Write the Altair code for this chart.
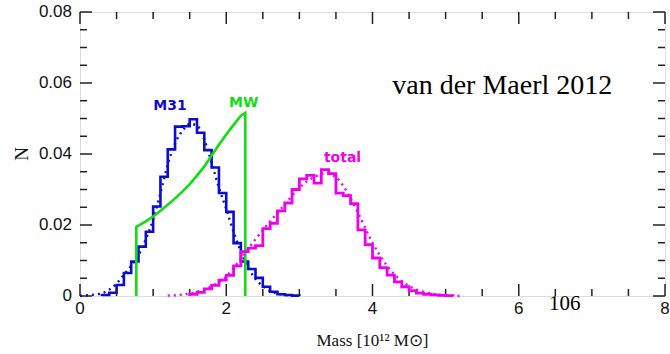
import altair as alt
import pandas as pd

# ---- data -----------------------------------------------------------------
BIN_W = 0.1

# M31 mass distribution: histogram (0.1-wide bins from 0.3) and smooth fit
M31_START = 0.3
M31_HIST = [0.0003, 0.0009, 0.0031, 0.0065, 0.0097, 0.0139, 0.0181, 0.0252, 0.0336, 0.0413,
            0.0477, 0.0478, 0.0498, 0.0460, 0.0411, 0.0362, 0.0290, 0.0237, 0.0149, 0.0097,
            0.0076, 0.0051, 0.0026, 0.0012, 0.0005, 0.0003, 0.0001]
M31_FIT_X = [0.0, 0.1, 0.2, 0.3, 0.4, 0.5, 0.6, 0.7, 0.8, 0.9, 1.0, 1.1, 1.2, 1.3, 1.4,
             1.5, 1.6, 1.7, 1.8, 1.9, 2.0, 2.1, 2.2, 2.3, 2.4, 2.5, 2.6, 2.7, 2.8, 2.9]
M31_FIT_Y = [0.0000, 0.0002, 0.0004, 0.0008, 0.0018, 0.0035, 0.0060, 0.0085, 0.0115, 0.0160,
             0.0215, 0.0290, 0.0370, 0.0430, 0.0465, 0.0485, 0.0480, 0.0440, 0.0375, 0.0305,
             0.0245, 0.0180, 0.0125, 0.0080, 0.0048, 0.0028, 0.0014, 0.0007, 0.0003, 0.0001]

# Milky Way mass distribution (truncated at both ends)
MW_X = [0.77, 0.77, 0.80, 0.90, 1.00, 1.10, 1.20, 1.30, 1.40, 1.50, 1.60, 1.70, 1.80,
        1.90, 2.00, 2.10, 2.20, 2.26, 2.26]
MW_Y = [0.0000, 0.0195, 0.0198, 0.0210, 0.0224, 0.0240, 0.0257, 0.0275, 0.0294, 0.0315,
        0.0339, 0.0365, 0.0396, 0.0426, 0.0455, 0.0482, 0.0508, 0.0516, 0.0000]

# Local Group total mass: histogram (0.1-wide bins from 1.5) and smooth fit
TOT_START = 1.5
TOT_HIST = [0.0005, 0.0010, 0.0020, 0.0030, 0.0045, 0.0058, 0.0085, 0.0125, 0.0135, 0.0142,
            0.0190, 0.0205, 0.0240, 0.0262, 0.0300, 0.0330, 0.0340, 0.0318, 0.0356, 0.0345,
            0.0290, 0.0283, 0.0260, 0.0186, 0.0145, 0.0107, 0.0080, 0.0059, 0.0040, 0.0026,
            0.0015, 0.0008, 0.0005, 0.0003, 0.0002, 0.0001]
TOT_FIT_X = [1.2, 1.4, 1.6, 1.8, 2.0, 2.2, 2.4, 2.6, 2.8, 3.0, 3.2, 3.35, 3.5, 3.6, 3.8,
             4.0, 4.2, 4.4, 4.6, 4.8, 5.0, 5.2]
TOT_FIT_Y = [0.0001, 0.0004, 0.0012, 0.0028, 0.0055, 0.0105, 0.0160, 0.0210, 0.0258, 0.0305,
             0.0335, 0.0345, 0.0335, 0.0310, 0.0235, 0.0150, 0.0085, 0.0042, 0.0018, 0.0007,
             0.0002, 0.0000]

# curve labels
LABELS = ["M31", "MW", "total"]
LABEL_X = [1.23, 2.24, 3.59]
LABEL_Y = [0.0524, 0.0532, 0.0377]

BLUE = "#0c0cd0"
GREEN = "#11dd11"
MAGENTA = "#ee00ee"
LABEL_COLORS = [BLUE, GREEN, MAGENTA]

# axis ticks and their labels
X_MAX, Y_MAX = 8.0, 0.08
X_MAJOR = [0, 2, 4, 6, 8]
X_LABELS = ["0", "2", "4", "6", "8"]
Y_MAJOR = [0, 0.02, 0.04, 0.06, 0.08]
Y_LABELS = ["0", "0.02", "0.04", "0.06", "0.08"]
X_MINOR = [0.5, 1, 1.5, 2.5, 3, 3.5, 4.5, 5, 5.5, 6.5, 7, 7.5]
Y_MINOR = [0.005, 0.01, 0.015, 0.025, 0.03, 0.035, 0.045, 0.05, 0.055, 0.065, 0.07, 0.075]
X_TITLE = "Mass [10¹² M⊙]"
Y_TITLE = "N"

W, H = 585, 284
PX_X, PX_Y = X_MAX / W, Y_MAX / H     # data units per pixel
MAJOR_LEN, MINOR_LEN = 12, 7          # tick lengths in pixels
TICK_COLOR = "#222"
TEXT_COLOR = "#111"


def step_frame(start, width, heights):
    """Outline of a histogram: one flat segment per bin, closed to zero at both ends."""
    xs, ys = [start], [0.0]
    for k, h in enumerate(heights):
        xs += [start + k * width, start + (k + 1) * width]
        ys += [h, h]
    xs.append(start + len(heights) * width)
    ys.append(0.0)
    return pd.DataFrame({"i": range(len(xs)), "x": xs, "y": ys})


def curve_frame(xs, ys):
    return pd.DataFrame({"i": range(len(xs)), "x": xs, "y": ys})


m31_hist = step_frame(M31_START, BIN_W, M31_HIST)
m31_fit = curve_frame(M31_FIT_X, M31_FIT_Y)
mw = curve_frame(MW_X, MW_Y)
tot_hist = step_frame(TOT_START, BIN_W, TOT_HIST)
tot_fit = curve_frame(TOT_FIT_X, TOT_FIT_Y)
labels = pd.DataFrame({"t": LABELS, "x": LABEL_X, "y": LABEL_Y, "c": LABEL_COLORS})

# ---- scales ----------------------------------------------------------------
xs = alt.Scale(domain=[0, X_MAX], nice=False, zero=False)
ys = alt.Scale(domain=[0, Y_MAX], nice=False)

# bare axes on the first layer: they carry nothing visible, the frame
# decoration (ticks, labels, titles) is drawn by the layers below
x_bare = alt.Axis(labels=False, ticks=False, domain=False, grid=False, title="")
y_bare = alt.Axis(labels=False, ticks=False, domain=False, grid=False, title="")


def X(field, axis=None):
    return alt.X(field, scale=xs, axis=axis)


def Y(field, axis=None):
    return alt.Y(field, scale=ys, axis=axis)


def enc():
    return dict(x=X("x:Q"), y=Y("y:Q"), order=alt.Order("i:Q"))


# ---- distributions ---------------------------------------------------------
m31_hist_layer = alt.Chart(m31_hist).mark_line(color=BLUE, strokeWidth=2.6).encode(
    x=X("x:Q", x_bare), y=Y("y:Q", y_bare), order=alt.Order("i:Q"))
m31_fit_layer = alt.Chart(m31_fit).mark_line(
    color=BLUE, strokeWidth=2.4, strokeDash=[2, 4], interpolate="monotone"
).encode(**enc())
mw_layer = alt.Chart(mw).mark_line(color=GREEN, strokeWidth=2.6).encode(**enc())
tot_hist_layer = alt.Chart(tot_hist).mark_line(color=MAGENTA, strokeWidth=2.8).encode(**enc())
tot_fit_layer = alt.Chart(tot_fit).mark_line(
    color=MAGENTA, strokeWidth=2.4, strokeDash=[2, 4], interpolate="monotone"
).encode(**enc())


# ---- inward ticks on all four sides of the frame -----------------------------
def x_ticks(values, length):
    base = alt.Chart(pd.DataFrame({"v": values})).mark_rule(
        color=TICK_COLOR, strokeWidth=1.5)
    bottom = base.encode(x=X("v:Q"), y=alt.value(H), y2=alt.value(H - length))
    top = base.encode(x=X("v:Q"), y=alt.value(0), y2=alt.value(length))
    return [bottom, top]


def y_ticks(values, length):
    base = alt.Chart(pd.DataFrame({"v": values})).mark_rule(
        color=TICK_COLOR, strokeWidth=1.5)
    left = base.encode(y=Y("v:Q"), x=alt.value(0), x2=alt.value(length))
    right = base.encode(y=Y("v:Q"), x=alt.value(W), x2=alt.value(W - length))
    return [left, right]


tick_layers = (x_ticks(X_MAJOR, MAJOR_LEN) + x_ticks(X_MINOR, MINOR_LEN)
               + y_ticks(Y_MAJOR, MAJOR_LEN) + y_ticks(Y_MINOR, MINOR_LEN))

# ---- tick labels and axis titles (placed through the scales) -------------------
x_label_df = pd.DataFrame({"x": X_MAJOR, "y": [-5 * PX_Y] * len(X_MAJOR), "t": X_LABELS})
x_label_layer = alt.Chart(x_label_df).mark_text(
    font="Liberation Sans", fontSize=17, baseline="top", align="center", color=TEXT_COLOR
).encode(x=X("x:Q"), y=Y("y:Q"), text="t:N")

y_label_df = pd.DataFrame({"x": [-8 * PX_X] * len(Y_MAJOR), "y": Y_MAJOR, "t": Y_LABELS})
y_label_layer = alt.Chart(y_label_df).mark_text(
    font="Liberation Sans", fontSize=17, baseline="middle", align="right", color=TEXT_COLOR
).encode(x=X("x:Q"), y=Y("y:Q"), text="t:N")

x_title_df = pd.DataFrame({"x": [X_MAX / 2], "y": [-45 * PX_Y], "t": [X_TITLE]})
x_title_layer = alt.Chart(x_title_df).mark_text(
    font="Liberation Serif", fontSize=17, baseline="middle", align="center", color=TEXT_COLOR
).encode(x=X("x:Q"), y=Y("y:Q"), text="t:N")

y_title_df = pd.DataFrame({"x": [-58 * PX_X], "y": [Y_MAX / 2], "t": [Y_TITLE]})
y_title_layer = alt.Chart(y_title_df).mark_text(
    font="Liberation Serif", fontSize=19, baseline="middle", align="center", angle=270,
    color=TEXT_COLOR
).encode(x=X("x:Q"), y=Y("y:Q"), text="t:N")

# ---- annotations -----------------------------------------------------------
label_layer = alt.Chart(labels).mark_text(
    font="DejaVu Sans", fontSize=14, fontWeight="bold", baseline="alphabetic", align="center"
).encode(
    x=X("x:Q"),
    y=Y("y:Q"),
    text="t:N",
    color=alt.Color("c:N", scale=None),
)

ref_df = pd.DataFrame({"t": ["van der Maerl 2012"], "x": [4.27], "y": [0.0569]})
ref_layer = alt.Chart(ref_df).mark_text(
    font="Liberation Serif", fontSize=28, align="left", baseline="alphabetic", color="#000"
).encode(x=X("x:Q"), y=Y("y:Q"), text="t:N")

page_df = pd.DataFrame({"t": ["106"], "x": [6.63], "y": [-0.0040]})
page_layer = alt.Chart(page_df).mark_text(
    font="Liberation Serif", fontSize=21, align="center", baseline="alphabetic", color="#000"
).encode(x=X("x:Q"), y=Y("y:Q"), text="t:N")

chart = alt.layer(
    m31_hist_layer, *tick_layers, m31_fit_layer, mw_layer, tot_hist_layer, tot_fit_layer,
    label_layer, ref_layer, page_layer,
    x_label_layer, y_label_layer, x_title_layer, y_title_layer,
).properties(
    width=W, height=H,
    autosize=alt.AutoSizeParams(type="none"),
    padding={"left": 80, "top": 12, "right": 5, "bottom": 58},
).configure_view(
    stroke="#000", strokeWidth=2
).configure(
    background="white"
)

chart.save("out.html", embed_options={"renderer": "svg", "actions": False})
